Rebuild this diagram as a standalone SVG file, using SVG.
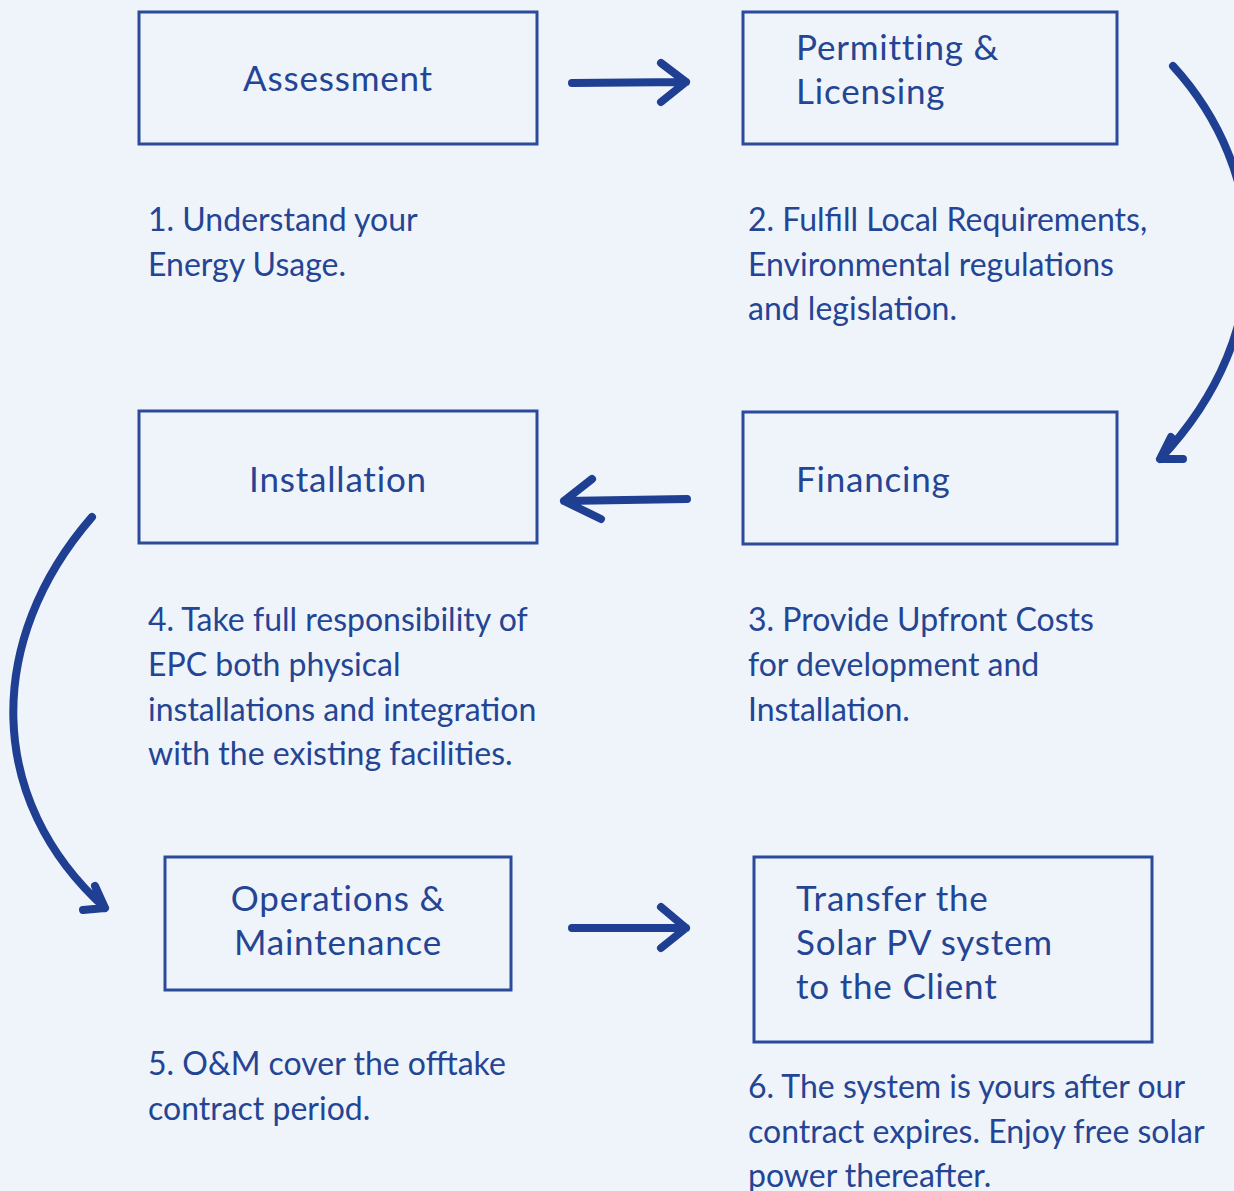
<svg xmlns="http://www.w3.org/2000/svg" width="1234" height="1191" viewBox="0 0 1234 1191">
<style>
.bg{fill:#eff4fa}
.box{fill:none;stroke:#2b4a9c;stroke-width:3}
.t{font-family:"Lato","Open Sans",sans-serif;fill:#244594}
.h{font-size:35px;letter-spacing:0.8px}
.d{font-size:32px}
.c{text-anchor:middle}
.ar{fill:none;stroke:#1f3f92;stroke-width:8;stroke-linecap:round;stroke-linejoin:round}
</style>
<rect class="bg" x="0" y="0" width="1234" height="1191"/>
<g id="node-assessment">
<rect class="box" x="139" y="12" width="398" height="132"/>
<text class="t h c" x="338" y="91">Assessment</text>
<text class="t d" x="148" y="231">1. Understand your</text>
<text class="t d" x="148" y="276">Energy Usage.</text>
</g>
<g id="node-permitting">
<rect class="box" x="743" y="12" width="374" height="132"/>
<text class="t h" x="796" y="60">Permitting &amp;</text>
<text class="t h" x="796" y="104">Licensing</text>
<text class="t d" x="748" y="231">2. Fulfill Local Requirements,</text>
<text class="t d" x="748" y="276">Environmental regulations</text>
<text class="t d" x="748" y="320">and legislation.</text>
</g>
<g id="node-financing">
<rect class="box" x="743" y="412" width="374" height="132"/>
<text class="t h" x="796" y="492">Financing</text>
<text class="t d" x="748" y="631">3. Provide Upfront Costs</text>
<text class="t d" x="748" y="676">for development and</text>
<text class="t d" x="748" y="721">Installation.</text>
</g>
<g id="node-installation">
<rect class="box" x="139" y="411" width="398" height="132"/>
<text class="t h c" x="338" y="492">Installation</text>
<text class="t d" x="148" y="631">4. Take full responsibility of</text>
<text class="t d" x="148" y="676">EPC both physical</text>
<text class="t d" x="148" y="721">installations and integration</text>
<text class="t d" x="148" y="765">with the existing facilities.</text>
</g>
<g id="node-om">
<rect class="box" x="165" y="857" width="346" height="133"/>
<text class="t h c" x="338" y="911">Operations &amp;</text>
<text class="t h c" x="338" y="955">Maintenance</text>
<text class="t d" x="148" y="1075">5. O&amp;M cover the offtake</text>
<text class="t d" x="148" y="1120">contract period.</text>
</g>
<g id="node-transfer">
<rect class="box" x="754" y="857" width="398" height="185"/>
<text class="t h" x="796" y="911">Transfer the</text>
<text class="t h" x="796" y="955">Solar PV system</text>
<text class="t h" x="796" y="999">to the Client</text>
<text class="t d" x="748" y="1098">6. The system is yours after our</text>
<text class="t d" x="748" y="1143">contract expires. Enjoy free solar</text>
<text class="t d" x="748" y="1187">power thereafter.</text>
</g>
<g id="connectors">
<path class="ar" d="M572,83 L686,82 M661,63 L686,82 L661,102"/>
<path class="ar" d="M1173,66 C1268,170 1282,330 1160,459 M1171,437 L1160,459 L1183,459"/>
<path class="ar" d="M687,499 L564,501 M592,479 L564,501 L601,519"/>
<path class="ar" d="M92,517 C-15,640 -15,800 105,908 M95,886 L105,908 L83,910"/>
<path class="ar" d="M572,928 L686,928 M661,907 L686,928 L661,948"/>
</g>
</svg>
